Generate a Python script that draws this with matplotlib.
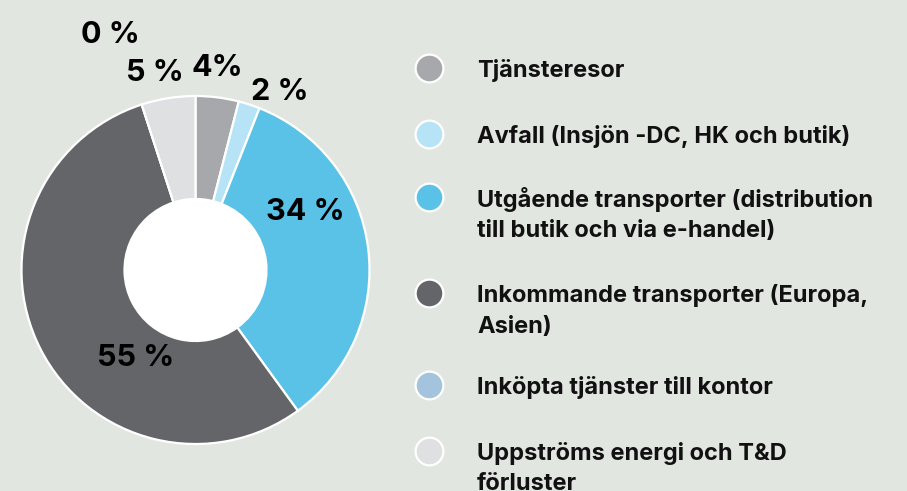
import matplotlib
matplotlib.use('Agg')
from matplotlib import pyplot as plt
from matplotlib.patches import Circle

plt.rcParams['font.family'] = ['Inter', 'DejaVu Sans']

# andel per kategori, medurs från klockan tolv
kategorier = ['Tjänsteresor',
              'Avfall (Insjön -DC, HK och butik)',
              'Utgående transporter (distribution\ntill butik och via e-handel)',
              'Inkommande transporter (Europa,\nAsien)',
              'Inköpta tjänster till kontor',
              'Uppströms energi och T&D\nförluster']
andelar = [4, 2, 34, 55, 0, 5]
etiketter = ['4%', '2 %', '34 %', '55 %', '0 %', '5 %']
farger = ['#a7a8ab', '#b6e4f6', '#5bc2e7', '#636569', '#a3c4dc', '#dfe0e2']

bg = '#e2e6e1'
W, H = 907, 491

fig = plt.figure(figsize=(W / 100, H / 100), dpi=100)
fig.patch.set_facecolor(bg)
ax = fig.add_axes([0, 0, 1, 1])
ax.set_facecolor(bg)

cx, cy = 195.5, H - 270
R, r_in = 174, 71

ax.pie(andelar, colors=farger, startangle=90, counterclock=False,
       center=(cx, cy), radius=R,
       wedgeprops=dict(width=R - r_in, edgecolor='white', linewidth=1.6))
ax.add_patch(Circle((cx, cy), r_in, facecolor='white', edgecolor='none', zorder=5))

# procentetiketter (pixelpositioner, y uppifrån)
etikett_pos = [(217, 68), (280, 92), (305, 212), (136, 358), (110, 35), (155, 73)]
for txt, (x, y) in zip(etiketter, etikett_pos):
    ax.text(x, H - y, txt, fontsize=22, fontweight='bold', color='black',
            ha='center', va='center', zorder=6)

# teckenförklaring
legend_y = [68, 134, 197, 293, 385, 451]
radavstand = 31
for namn, farg, y in zip(kategorier, farger, legend_y):
    ax.scatter([429], [H - y], s=400, color=farg, edgecolors='white',
               linewidths=1.6, zorder=6)
    for i, rad in enumerate(namn.split('\n')):
        ax.text(477, H - (y + i * radavstand), rad, fontsize=17,
                fontweight='bold', color='#111111', ha='left',
                va='center_baseline', zorder=6)

ax.set_xlim(0, W)
ax.set_ylim(0, H)
ax.set_aspect('equal')
ax.axis('off')

plt.savefig('out.png', dpi=100, facecolor=bg)
